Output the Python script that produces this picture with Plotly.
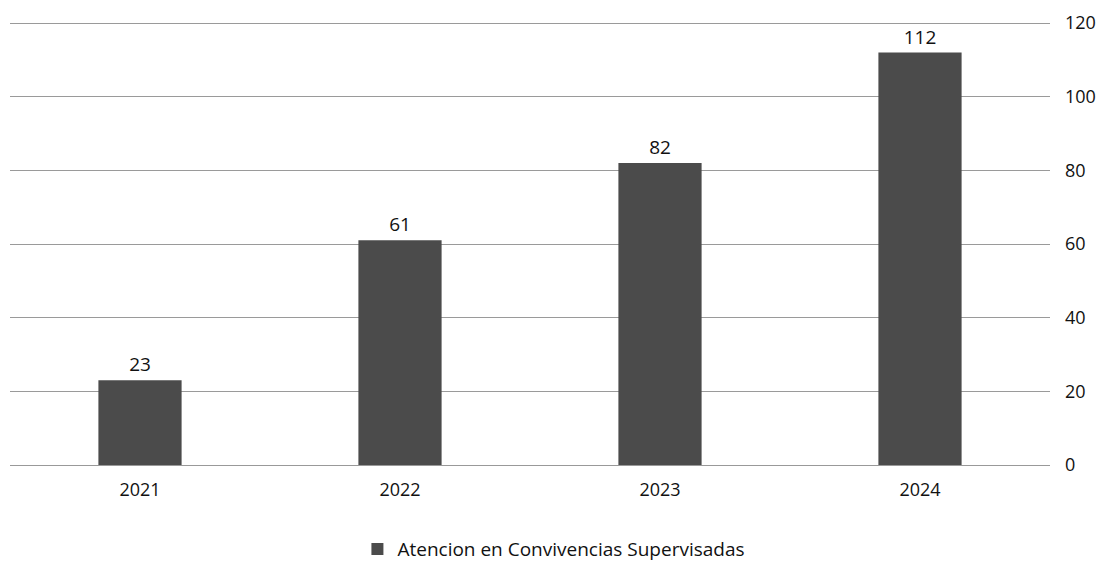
import plotly.graph_objects as go

years = ["2021", "2022", "2023", "2024"]
atenciones = [23, 61, 82, 112]
y_ticks = [0, 20, 40, 60, 80, 100, 120]

fig = go.Figure(
    go.Bar(
        x=years, y=atenciones,
        name="Atencion en Convivencias Supervisadas",
        marker=dict(color="#4b4b4b", line=dict(width=0)),
        text=atenciones, textposition="outside",
        textfont=dict(size=19, color="#111"),
        cliponaxis=False,
    )
)

fig.update_layout(
    width=1113, height=581,
    margin=dict(l=2, r=71, t=14, b=124),
    paper_bgcolor="white", plot_bgcolor="white",
    font=dict(family="Open Sans, Liberation Sans, sans-serif", size=18, color="#111"),
    bargap=0.68,
    showlegend=True,
    legend=dict(orientation="h", x=0.523, xanchor="center", y=-0.19, yanchor="middle",
                font=dict(size=19)),
    xaxis=dict(showline=True, linecolor="#999", linewidth=1, ticks="",
               ticklabelstandoff=8, showgrid=False, automargin=False),
    yaxis=dict(side="right", range=[0, 120.3], tickvals=y_ticks, showgrid=True,
               gridcolor="#9a9a9a", gridwidth=1, zeroline=False,
               ticklabelstandoff=14, automargin=False, ticklabeloverflow="allow"),
)

fig.write_html("out.html")
